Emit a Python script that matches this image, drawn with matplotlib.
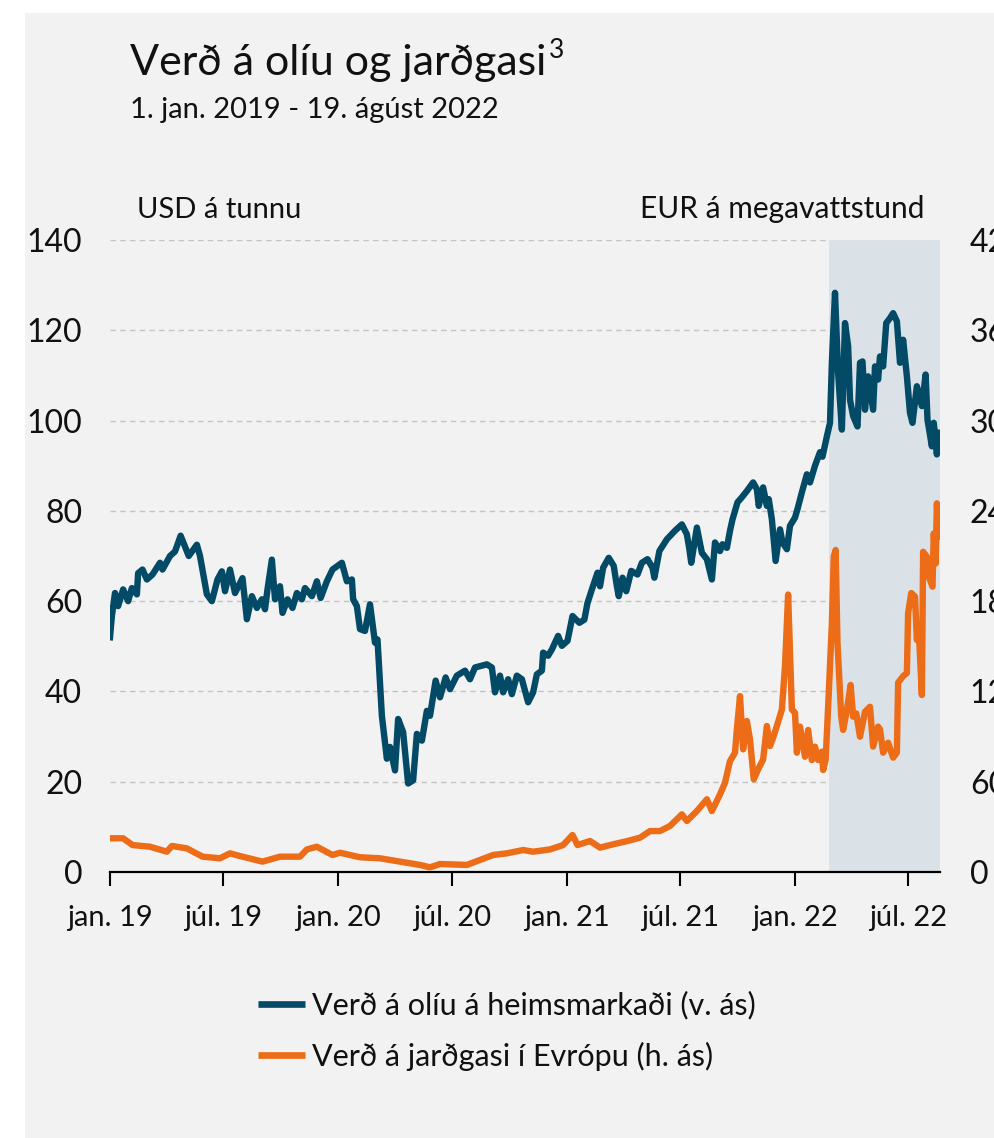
import matplotlib
matplotlib.use("Agg")
import matplotlib.pyplot as plt
import pandas as pd
from matplotlib.lines import Line2D
from matplotlib.patches import Rectangle

# Brent oil, USD per barrel (left axis)
oil_dates = [
    "2019-01-01", "2019-01-04", "2019-01-09", "2019-01-14", "2019-01-22", "2019-01-30",
    "2019-02-05", "2019-02-13", "2019-02-15", "2019-02-22", "2019-03-01", "2019-03-10",
    "2019-03-22", "2019-03-26", "2019-04-07", "2019-04-15", "2019-04-24", "2019-05-01",
    "2019-05-07", "2019-05-20", "2019-05-25", "2019-05-28", "2019-06-05", "2019-06-13",
    "2019-06-22", "2019-06-29", "2019-07-04", "2019-07-12", "2019-07-20", "2019-08-01",
    "2019-08-08", "2019-08-16", "2019-08-24", "2019-09-01", "2019-09-06", "2019-09-10",
    "2019-09-17", "2019-09-22", "2019-09-30", "2019-10-04", "2019-10-12", "2019-10-20",
    "2019-10-27", "2019-11-04", "2019-11-09", "2019-11-20", "2019-11-28", "2019-12-04",
    "2019-12-14", "2019-12-23", "2020-01-07", "2020-01-15", "2020-01-23", "2020-01-25",
    "2020-01-31", "2020-02-05", "2020-02-13", "2020-02-21", "2020-02-29", "2020-03-04",
    "2020-03-11", "2020-03-19", "2020-03-24", "2020-04-01", "2020-04-06", "2020-04-14",
    "2020-04-22", "2020-04-30", "2020-05-06", "2020-05-14", "2020-05-22", "2020-05-27",
    "2020-06-05", "2020-06-12", "2020-06-21", "2020-06-28", "2020-07-09", "2020-07-22",
    "2020-07-30", "2020-08-07", "2020-08-26", "2020-09-03", "2020-09-08", "2020-09-16",
    "2020-09-21", "2020-09-29", "2020-10-05", "2020-10-13", "2020-10-21", "2020-10-31",
    "2020-11-08", "2020-11-14", "2020-11-22", "2020-11-24", "2020-12-02", "2020-12-08",
    "2020-12-18", "2020-12-24", "2021-01-02", "2021-01-10", "2021-01-21", "2021-01-29",
    "2021-02-03", "2021-02-11", "2021-02-19", "2021-02-23", "2021-02-28", "2021-03-09",
    "2021-03-17", "2021-03-22", "2021-03-25", "2021-03-31", "2021-04-06", "2021-04-14",
    "2021-04-24", "2021-05-01", "2021-05-10", "2021-05-18", "2021-05-21", "2021-05-29",
    "2021-06-10", "2021-06-23", "2021-07-04", "2021-07-12", "2021-07-16", "2021-07-19",
    "2021-07-28", "2021-08-05", "2021-08-13", "2021-08-21", "2021-08-26", "2021-09-03",
    "2021-09-07", "2021-09-14", "2021-09-19", "2021-09-23", "2021-10-01", "2021-10-08",
    "2021-10-16", "2021-10-26", "2021-11-01", "2021-11-04", "2021-11-11", "2021-11-17",
    "2021-11-20", "2021-11-25", "2021-12-01", "2021-12-08", "2021-12-12", "2021-12-19",
    "2021-12-24", "2022-01-01", "2022-01-05", "2022-01-12", "2022-01-20", "2022-01-25",
    "2022-02-02", "2022-02-10", "2022-02-14", "2022-02-21", "2022-02-26", "2022-03-01",
    "2022-03-06", "2022-03-11", "2022-03-17", "2022-03-22", "2022-03-27", "2022-03-30",
    "2022-04-04", "2022-04-11", "2022-04-15", "2022-04-19", "2022-04-23", "2022-04-28",
    "2022-05-06", "2022-05-09", "2022-05-14", "2022-05-17", "2022-05-22", "2022-05-27",
    "2022-06-02", "2022-06-07", "2022-06-13", "2022-06-18", "2022-06-23", "2022-06-29",
    "2022-07-04", "2022-07-08", "2022-07-15", "2022-07-23", "2022-07-29", "2022-08-01",
    "2022-08-08", "2022-08-11", "2022-08-16", "2022-08-19",
]
oil_values = [
    52.0, 56.7, 61.8, 58.9, 62.6, 60.0,
    62.9, 61.5, 66.2, 67.0, 64.8, 65.9,
    68.5, 67.0, 70.0, 71.0, 74.5, 72.1,
    70.0, 72.5, 70.0, 67.7, 61.5, 60.0,
    64.8, 66.6, 62.2, 67.0, 61.8, 65.1,
    56.0, 61.1, 58.5, 60.4, 58.2, 62.6,
    69.2, 60.4, 63.3, 57.4, 60.4, 58.5,
    61.8, 60.4, 62.9, 61.1, 64.4, 60.7,
    64.4, 67.0, 68.5, 64.4, 64.8, 60.4,
    58.9, 53.8, 53.4, 59.3, 50.8, 51.5,
    34.6, 25.1, 27.7, 22.5, 33.9, 31.0,
    19.6, 20.3, 30.6, 29.1, 35.7, 34.6,
    42.4, 38.7, 43.1, 40.5, 43.5, 44.6,
    42.7, 45.3, 46.0, 45.3, 39.8, 43.5,
    39.8, 42.7, 39.4, 43.5, 42.7, 37.6,
    39.8, 43.8, 44.6, 48.6, 47.9, 49.3,
    52.3, 50.1, 51.2, 56.7, 55.2, 55.9,
    59.6, 63.0, 66.3, 63.3, 67.4, 69.6,
    67.8, 63.3, 61.1, 65.2, 62.2, 66.7,
    65.9, 68.5, 69.3, 67.4, 65.2, 71.1,
    73.7, 75.6, 77.0, 74.8, 71.5, 68.5,
    76.3, 70.7, 69.3, 64.8, 73.0, 71.1,
    72.6, 71.8, 75.6, 78.1, 81.9, 83.0,
    84.4, 86.3, 84.8, 81.1, 85.2, 81.1,
    82.6, 78.1, 68.9, 75.9, 73.0, 71.5,
    76.7, 78.5, 80.4, 84.1, 88.1, 86.3,
    90.0, 93.0, 92.0, 96.5, 99.5, 112.8,
    128.3, 110.6, 98.0, 121.6, 116.5, 104.6,
    101.0, 98.7, 112.8, 113.1, 102.4, 109.8,
    102.4, 112.0, 109.1, 114.2, 112.0, 121.6,
    122.7, 123.8, 122.0, 112.8, 117.9, 109.8,
    101.7, 99.5, 107.6, 103.2, 110.2, 100.2,
    94.3, 99.5, 92.5, 97.3,
]

# TTF natural gas, EUR per MWh (right axis)
gas_dates = [
    "2019-01-01", "2019-01-22", "2019-02-06", "2019-03-06", "2019-04-02", "2019-04-10",
    "2019-05-04", "2019-05-29", "2019-06-26", "2019-07-12", "2019-07-28", "2019-09-02",
    "2019-09-30", "2019-11-01", "2019-11-12", "2019-11-28", "2019-12-23", "2020-01-04",
    "2020-02-05", "2020-03-08", "2020-04-09", "2020-05-11", "2020-05-27", "2020-06-12",
    "2020-07-25", "2020-08-15", "2020-09-05", "2020-09-27", "2020-10-23", "2020-11-08",
    "2020-12-05", "2020-12-26", "2021-01-10", "2021-01-18", "2021-02-07", "2021-02-23",
    "2021-03-16", "2021-04-08", "2021-04-28", "2021-05-14", "2021-05-30", "2021-06-15",
    "2021-07-04", "2021-07-12", "2021-07-28", "2021-08-13", "2021-08-21", "2021-09-03",
    "2021-09-11", "2021-09-19", "2021-09-27", "2021-09-30", "2021-10-05", "2021-10-10",
    "2021-10-16", "2021-10-21", "2021-10-27", "2021-11-03", "2021-11-11", "2021-11-17",
    "2021-11-22", "2021-11-26", "2021-12-03", "2021-12-11", "2021-12-16", "2021-12-21",
    "2021-12-27", "2022-01-01", "2022-01-04", "2022-01-09", "2022-01-17", "2022-01-22",
    "2022-01-28", "2022-02-02", "2022-02-07", "2022-02-13", "2022-02-15", "2022-02-19",
    "2022-02-24", "2022-03-01", "2022-03-04", "2022-03-07", "2022-03-10", "2022-03-16",
    "2022-03-19", "2022-03-25", "2022-03-31", "2022-04-04", "2022-04-09", "2022-04-15",
    "2022-04-23", "2022-05-01", "2022-05-06", "2022-05-14", "2022-05-17", "2022-05-22",
    "2022-05-30", "2022-06-07", "2022-06-13", "2022-06-15", "2022-06-23", "2022-06-29",
    "2022-07-01", "2022-07-06", "2022-07-12", "2022-07-15", "2022-07-18", "2022-07-23",
    "2022-07-25", "2022-07-31", "2022-08-03", "2022-08-09", "2022-08-11", "2022-08-14",
    "2022-08-16", "2022-08-19",
]
gas_values = [
    22.4, 22.4, 17.9, 16.8, 13.5, 17.3,
    15.7, 10.2, 9.1, 12.4, 10.6, 6.9,
    10.2, 10.2, 15.0, 16.8, 11.3, 12.8,
    9.8, 9.1, 6.9, 4.7, 3.1, 5.3,
    4.7, 8.0, 11.3, 12.4, 14.6, 13.5,
    15.0, 17.9, 24.6, 17.9, 20.6, 16.2,
    18.4, 20.6, 22.8, 27.2, 27.2, 30.6,
    38.3, 33.9, 40.5, 48.3, 40.5, 51.6,
    59.3, 73.7, 79.3, 94.8, 116.9, 81.5,
    100.3, 88.1, 61.6, 68.2, 74.8, 97.0,
    83.7, 88.1, 97.0, 108.0, 136.8, 184.4,
    108.0, 105.8, 79.3, 96.6, 76.6, 94.4,
    74.4, 83.3, 74.4, 80.0, 67.8, 74.4,
    118.7, 165.3, 209.5, 214.0, 152.0, 103.2,
    94.4, 107.6, 124.3, 103.2, 105.4, 89.9,
    106.5, 109.8, 83.3, 96.6, 94.8, 79.3,
    85.9, 76.0, 79.3, 125.8, 130.2, 132.2,
    172.0, 185.4, 183.0, 154.2, 160.8, 117.6,
    212.8, 209.5, 196.2, 189.6, 225.0, 205.0,
    245.0, 222.8,
]

tick_dates = ["2019-01-01", "2019-07-01", "2020-01-01", "2020-07-01",
              "2021-01-01", "2021-07-01", "2022-01-01", "2022-07-01"]
tick_labels = ["jan. 19", "júl. 19", "jan. 20", "júl. 20",
               "jan. 21", "júl. 21", "jan. 22", "júl. 22"]
war_start = "2022-02-24"
x_end = "2022-08-21"

OIL_COLOR = "#024a66"
GAS_COLOR = "#ec6c17"
PANEL = "#f2f2f2"
SHADE = "#dbe2e7"
TEXT = "#111111"

plt.rcParams["font.family"] = ["Lato", "DejaVu Sans"]

fig = plt.figure(figsize=(9.95, 11.38), dpi=100)
fig.patch.set_facecolor("white")
fig.patches.append(Rectangle((25 / 995, 0), 1, 1 - 13 / 1138, transform=fig.transFigure,
                             facecolor=PANEL, edgecolor="none", zorder=-10))

ax = fig.add_axes([110 / 995, 1 - 872 / 1138, 830 / 995, 632 / 1138])
ax.set_facecolor("none")
ax2 = ax.twinx()

oil_x = pd.to_datetime(oil_dates)
gas_x = pd.to_datetime(gas_dates)
x0 = pd.Timestamp(tick_dates[0])
x1 = pd.Timestamp(x_end)

ax.axvspan(pd.Timestamp(war_start), x1, color=SHADE, lw=0, zorder=1)
ax.plot(oil_x, oil_values, color=OIL_COLOR, lw=4.6, solid_joinstyle="round", zorder=3)
ax2.plot(gas_x, gas_values, color=GAS_COLOR, lw=4.6, solid_joinstyle="round", zorder=3)

ax.set_xlim(x0, x1)
ax.set_ylim(0, 140)
ax2.set_ylim(0, 420)
ax.set_yticks(range(0, 141, 20))
ax2.set_yticks(range(0, 421, 60))
ax.set_xticks(pd.to_datetime(tick_dates))
ax.set_xticklabels(tick_labels)

ax.grid(axis="y", color="#c4c4c4", linestyle=(0, (4, 3)), lw=1.0)
ax.set_axisbelow(True)

for a in (ax, ax2):
    for side in ("top", "right", "left"):
        a.spines[side].set_visible(False)
ax2.spines["bottom"].set_visible(False)
ax.spines["bottom"].set_color("black")
ax.spines["bottom"].set_linewidth(1.6)
ax.spines["bottom"].set_zorder(4)

# right-axis labels run off the edge of the panel, as in the original
ax.tick_params(axis="y", length=0, pad=20, labelsize=23, labelcolor=TEXT)
ax2.tick_params(axis="y", length=0, pad=21.5, labelsize=23, labelcolor=TEXT)
ax.tick_params(axis="x", direction="out", length=10, width=1.5, pad=14,
               labelsize=21, labelcolor=TEXT)

# titles and unit labels
title = fig.text(130 / 995, 1 - 75 / 1138, "Verð á olíu og jarðgasi", fontsize=31,
                 va="baseline", ha="left", color=TEXT)
fig.canvas.draw()
bb = title.get_window_extent()
fig.text(bb.x1 / fig.bbox.width + 0.003, 1 - 58 / 1138, "3", fontsize=19,
         va="baseline", ha="left", color=TEXT)
fig.text(130 / 995, 1 - 118 / 1138, "1. jan. 2019 - 19. ágúst 2022", fontsize=21,
         va="baseline", ha="left", color=TEXT)
fig.text(137 / 995, 1 - 218 / 1138, "USD á tunnu", fontsize=21,
         va="baseline", ha="left", color=TEXT)
fig.text(925 / 995, 1 - 218 / 1138, "EUR á megavattstund", fontsize=21.5,
         va="baseline", ha="right", color=TEXT)

handles = [
    Line2D([], [], color=OIL_COLOR, lw=4.8, solid_capstyle="butt"),
    Line2D([], [], color=GAS_COLOR, lw=4.8, solid_capstyle="butt"),
]
labels = ["Verð á olíu á heimsmarkaði (v. ás)", "Verð á jarðgasi í Evrópu (h. ás)"]
fig.legend(handles, labels, loc="center left",
           bbox_to_anchor=(258 / 995, 1 - 1031 / 1138), frameon=False,
           fontsize=22, handlelength=1.55, handletextpad=0.23,
           labelspacing=0.72, borderpad=0, borderaxespad=0, labelcolor=TEXT)

fig.savefig("out.png", dpi=100, facecolor=fig.get_facecolor())
